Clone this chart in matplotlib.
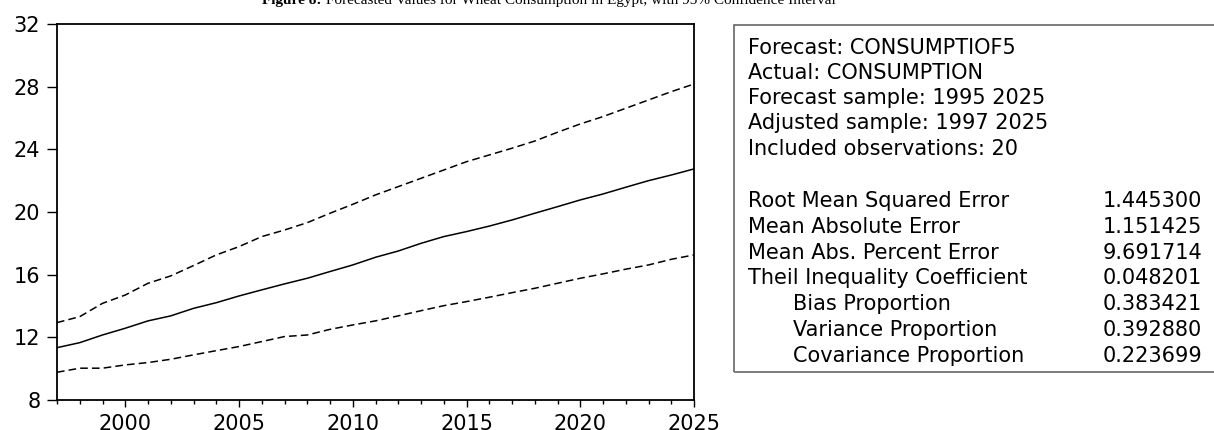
import matplotlib
matplotlib.use("Agg")
import matplotlib.pyplot as plt
from matplotlib.patches import Rectangle
from matplotlib.text import Annotation
from matplotlib.ticker import MultipleLocator

years = list(range(1997, 2026))
forecast = [11.34, 11.66, 12.15, 12.58, 13.05, 13.37, 13.85, 14.21, 14.64, 15.03,
            15.41, 15.77, 16.20, 16.62, 17.11, 17.51, 18.00, 18.43, 18.75, 19.10,
            19.49, 19.92, 20.34, 20.77, 21.15, 21.58, 22.00, 22.36, 22.75]
upper = [12.94, 13.32, 14.17, 14.70, 15.45, 15.92, 16.58, 17.26, 17.79, 18.43,
         18.85, 19.32, 19.92, 20.49, 21.09, 21.62, 22.15, 22.68, 23.21, 23.64,
         24.07, 24.53, 25.09, 25.62, 26.09, 26.62, 27.15, 27.68, 28.17]
lower = [9.77, 10.03, 10.03, 10.24, 10.39, 10.60, 10.88, 11.15, 11.41, 11.73,
         12.05, 12.15, 12.51, 12.79, 13.05, 13.37, 13.70, 14.02, 14.28, 14.56,
         14.85, 15.13, 15.45, 15.77, 16.05, 16.35, 16.62, 16.98, 17.26]
y_ticks = [8, 12, 16, 20, 24, 28, 32]
x_ticks = [2000, 2005, 2010, 2015, 2020, 2025]

title_bold = "Figure 8:"
title_rest = " Forecasted Values for Wheat Consumption in Egypt, with 95% Confidence Interval"

header_lines = ["Forecast: CONSUMPTIOF5", "Actual: CONSUMPTION",
                "Forecast sample: 1995 2025", "Adjusted sample: 1997 2025",
                "Included observations: 20"]
stat_names = ["Root Mean Squared Error", "Mean Absolute Error",
              "Mean Abs. Percent Error", "Theil Inequality Coefficient",
              "Bias Proportion", "Variance Proportion", "Covariance Proportion"]
stat_indent = [False, False, False, False, True, True, True]
stat_values = ["1.445300", "1.151425", "9.691714", "0.048201",
               "0.383421", "0.392880", "0.223699"]

W, H = 1214, 430
fig = plt.figure(figsize=(W / 100, H / 100), dpi=100)
fig.patch.set_facecolor("white")

def fx(px):
    return px / W

def fy(py):
    return 1 - py / H

ax = fig.add_axes([fx(57), fy(400), fx(694) - fx(57), fy(24) - fy(400)])
ax.plot(years, forecast, color="black", lw=1.1, solid_joinstyle="round")
ax.plot(years, upper, color="black", lw=1.1, linestyle=(0, (5, 2.7)))
ax.plot(years, lower, color="black", lw=1.1, linestyle=(0, (5, 2.7)))
ax.set_xlim(1997, 2025)
ax.set_ylim(8, 32)
ax.set_yticks(y_ticks)
ax.set_xticks(x_ticks)
ax.xaxis.set_minor_locator(MultipleLocator(1))
for s in ax.spines.values():
    s.set_linewidth(1.3)
    s.set_color("black")
ax.tick_params(axis="y", which="major", direction="out", length=7, width=1.0,
               pad=5, labelsize=15)
ax.tick_params(axis="x", which="major", direction="out", length=5.3, width=1.0,
               pad=5, labelsize=15)
ax.tick_params(axis="x", which="minor", direction="out", length=3, width=1.0)
for lab in ax.get_xticklabels() + ax.get_yticklabels():
    lab.set_family("DejaVu Sans")

# title (mostly cut at top of image)
t1 = fig.text(fx(262), fy(4), title_bold, family="Liberation Serif",
              fontsize=11, fontweight="bold", ha="left", va="baseline")
fig.add_artist(Annotation(
    title_rest, xy=(1, 0), xycoords=t1, xytext=(1, 0), textcoords=t1,
    family="Liberation Serif", fontsize=11, ha="left", va="bottom"))

# statistics box
rect = Rectangle((fx(734), fy(372)), fx(1230) - fx(734), fy(25) - fy(372),
                 transform=fig.transFigure, fill=False, edgecolor="#666666",
                 lw=1.2, clip_on=False)
fig.add_artist(rect)

box_font = dict(family="DejaVu Sans", fontsize=15, va="baseline", ha="left")
header_y = [46.7, 72.3, 96.7, 122.3, 148.3]
for txt, yy in zip(header_lines, header_y):
    fig.text(fx(748), fy(yy + 7), txt, **box_font)
stat_y = [200, 226, 251.7, 276.7, 303.3, 329.3, 355]
for name, ind, val, yy in zip(stat_names, stat_indent, stat_values, stat_y):
    fig.text(fx(793 if ind else 748), fy(yy + 7), name, **box_font)
    fig.text(fx(1103), fy(yy + 7), val, **box_font)

fig.savefig("out.png", dpi=100, facecolor="white")
